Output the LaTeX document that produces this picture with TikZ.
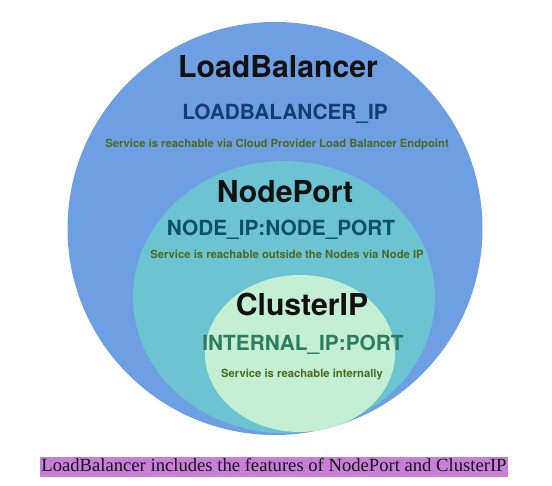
\documentclass[tikz,border=0pt]{standalone}
\usepackage{fontspec}
\usepackage{tikz}
\usepackage{xcolor}
\setmainfont{TeX Gyre Heros}
\newfontfamily\captionFont{Liberation Serif}
\definecolor{ringColorA}{HTML}{6E9FE3}
\definecolor{ringColorB}{HTML}{6CC3D1}
\definecolor{ringColorC}{HTML}{C3EFD3}
\definecolor{titleColorA}{HTML}{111111}
\definecolor{titleColorB}{HTML}{111111}
\definecolor{titleColorC}{HTML}{111111}
\definecolor{addrColorA}{HTML}{163B70}
\definecolor{addrColorB}{HTML}{0F4E67}
\definecolor{addrColorC}{HTML}{2F7B62}
\definecolor{noteColorA}{HTML}{4D6A22}
\definecolor{noteColorB}{HTML}{4D6A22}
\definecolor{noteColorC}{HTML}{4D6A22}
\definecolor{captionBgColor}{HTML}{C87FD6}
\definecolor{captionTextColor}{HTML}{1A1020}
\def\titleA{LoadBalancer}
\def\titleB{NodePort}
\def\titleC{ClusterIP}
\def\addrA{LOADBALANCER\_IP}
\def\addrB{NODE\_IP:NODE\_PORT}
\def\addrC{INTERNAL\_IP:PORT}
\def\noteA{Service is reachable via Cloud Provider Load Balancer Endpoint}
\def\noteB{Service is reachable outside the Nodes via Node IP}
\def\noteC{Service is reachable internally}
\def\captionText{LoadBalancer includes the features of NodePort and ClusterIP}

\begin{document}
\begin{tikzpicture}[x=1bp,y=-1bp]
\useasboundingbox (0, 0) rectangle (552, 486);

% ring layer
\begin{scope}
\fill[color=ringColorA] (275, 228.5) ellipse [x radius=207.5, y radius=206.5];
\fill[color=ringColorB] (284, 297) ellipse [x radius=151, y radius=136];
\fill[color=ringColorC] (300, 353.5) ellipse [x radius=95, y radius=78.5];
\end{scope}

% title layer
\begin{scope}[font=\bfseries\fontsize{30.3}{35}\selectfont]
\node[anchor=base, inner sep=0pt, text=titleColorA] (titleA) at (278, 78) {\titleA};
\node[anchor=base, inner sep=0pt, text=titleColorB] (titleB) at (285, 203) {\titleB};
\node[anchor=base, inner sep=0pt, text=titleColorC] (titleC) at (302, 315) {\titleC};
\end{scope}

% address layer
\begin{scope}[font=\bfseries\fontsize{20.9}{24}\selectfont]
\node[anchor=base, inner sep=0pt, text=addrColorA] (addrA) at (285, 120) {\addrA};
\node[anchor=base, inner sep=0pt, text=addrColorB] (addrB) at (281, 235) {\addrB};
\node[anchor=base, inner sep=0pt, text=addrColorC] (addrC) at (303, 350) {\addrC};
\end{scope}

% note layer
\begin{scope}[font=\bfseries\fontsize{11.3}{13}\selectfont]
\node[anchor=base, inner sep=0pt, text=noteColorA] (noteA) at (277, 148) {\noteA};
\node[anchor=base, inner sep=0pt, text=noteColorB] (noteB) at (287, 258) {\noteB};
\node[anchor=base, inner sep=0pt, text=noteColorC] (noteC) at (302, 377) {\noteC};
\end{scope}

% caption
\begin{scope}
\fill[color=captionBgColor]
(40, 457) rectangle (508, 477) node[midway, yshift=-.5bp, anchor=center, text=captionTextColor, font=\captionFont\fontsize{18.7}{20}\selectfont] (caption) {\strut \captionText};
\end{scope}

\end{tikzpicture}
\end{document}
